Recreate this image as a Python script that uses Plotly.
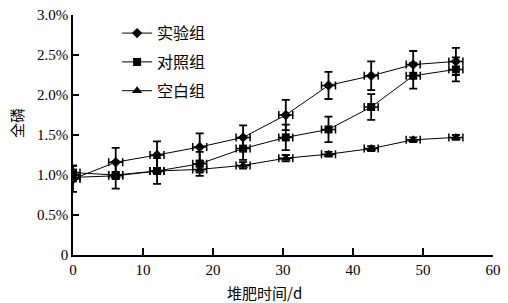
import plotly.graph_objects as go

days = [0, 6.1, 12, 18.1, 24.3, 30.4, 36.5, 42.6, 48.6, 54.7]
day_err = [1, 1, 1, 1, 1, 1, 1, 1, 1, 1]

exp_vals = [0.95, 1.16, 1.25, 1.35, 1.47, 1.75, 2.12, 2.24, 2.38, 2.42]
exp_err = [0.16, 0.18, 0.17, 0.17, 0.15, 0.19, 0.17, 0.18, 0.17, 0.17]

ctl_vals = [1.03, 1.00, 1.05, 1.14, 1.33, 1.47, 1.57, 1.85, 2.24, 2.32]
ctl_err = [0.09, 0.17, 0.16, 0.15, 0.14, 0.16, 0.16, 0.16, 0.16, 0.15]

blk_vals = [0.97, 0.99, 1.05, 1.07, 1.12, 1.21, 1.26, 1.33, 1.44, 1.47]
blk_err = [0.05, 0.04, 0.04, 0.04, 0.04, 0.04, 0.03, 0.03, 0.03, 0.03]

names = ["实验组", "对照组", "空白组"]
symbols = ["diamond", "square", "triangle-up"]
sizes = [8, 8, 9]

y_ticks = [0, 0.5, 1.0, 1.5, 2.0, 2.5, 3.0]
y_labels = ["0", "0.5%", "1.0%", "1.5%", "2.0%", "2.5%", "3.0%"]
x_ticks = [0, 10, 20, 30, 40, 50, 60]

fig = go.Figure()
for name, vals, errs, sym, sz in zip(names, [exp_vals, ctl_vals, blk_vals],
                                     [exp_err, ctl_err, blk_err], symbols, sizes):
    fig.add_trace(go.Scatter(
        x=days, y=vals, name=name, mode="lines+markers", legendgroup=name,
        line=dict(color="black", width=1),
        marker=dict(symbol=sym, size=sz, color="black"),
        error_y=dict(type="data", array=errs, color="black", thickness=1.8, width=4),
        error_x=dict(type="data", array=day_err, color="black", thickness=1.5, width=4),
    ))

cjk = "Noto Sans CJK SC"
PL, PR, PT, PB = 73, 493, 15, 255


def px_to_paper(xp, yp):
    return (xp - PL) / (PR - PL), (PB - yp) / (PB - PT)


xt_x, xt_y = px_to_paper(264, 292)
yt_x, yt_y = px_to_paper(17, 123)

fig.update_layout(
    width=508, height=303,
    margin=dict(l=PL, r=508 - PR, t=PT, b=303 - PB, autoexpand=False),
    paper_bgcolor="white", plot_bgcolor="white",
    font=dict(family="Liberation Serif, Times New Roman, serif", size=15, color="black"),
    showlegend=True,
    legend=dict(x=0.105, y=0.995, xanchor="left", yanchor="top",
                font=dict(family=cjk, size=16, color="black"),
                bgcolor="rgba(0,0,0,0)", tracegroupgap=5, itemwidth=30),
    xaxis=dict(range=[0, 60], tickvals=x_ticks, ticks="inside", ticklen=7,
               tickwidth=1.5, tickcolor="black", showline=True, linecolor="black",
               linewidth=1.5, showgrid=False, zeroline=False),
    yaxis=dict(range=[0, 3.0], tickvals=y_ticks, ticktext=y_labels, ticks="inside",
               ticklen=6, tickwidth=1.5, tickcolor="black", showline=True,
               linecolor="black", linewidth=1.5, showgrid=False, zeroline=False),
    annotations=[
        dict(text="堆肥时间/d", x=xt_x, y=xt_y, xref="paper", yref="paper",
             xanchor="center", yanchor="middle", showarrow=False,
             font=dict(family=cjk, size=15)),
        dict(text="全磷", x=yt_x, y=yt_y, xref="paper", yref="paper",
             xanchor="center", yanchor="middle", textangle=-90, showarrow=False,
             font=dict(family=cjk, size=15)),
    ],
)

fig.write_html("out.html", config={"displayModeBar": False},
               post_script="document.body.style.margin='0';")
